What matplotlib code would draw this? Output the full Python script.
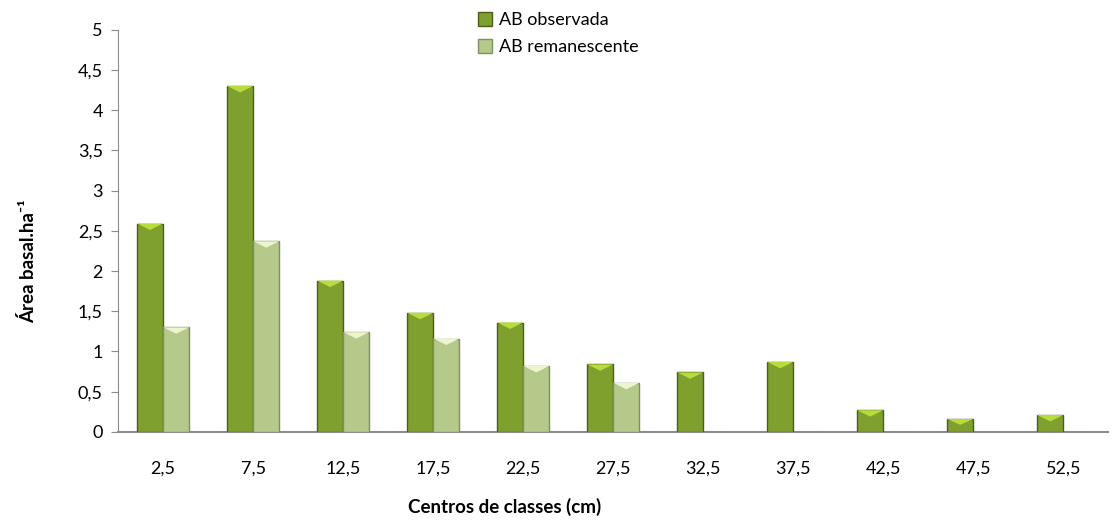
import matplotlib.pyplot as plt
from matplotlib.patches import Polygon
import numpy as np

plt.rcParams['font.family'] = ['Lato', 'DejaVu Sans']

centros = ['2,5', '7,5', '12,5', '17,5', '22,5', '27,5', '32,5', '37,5', '42,5', '47,5', '52,5']
ab_observada = [2.59, 4.30, 1.88, 1.48, 1.36, 0.84, 0.74, 0.87, 0.27, 0.16, 0.21]
ab_remanescente = [1.30, 2.37, 1.24, 1.16, 0.82, 0.61, 0, 0, 0, 0, 0]

fig = plt.figure(figsize=(11.15, 5.21), dpi=100)
ax = fig.add_axes([0.106, 0.171, 0.888, 0.772])

x = np.arange(len(centros))
w = 0.29


def bevel(bars, light):
    # lighter chevron on top of each bar
    for b in bars:
        h = b.get_height()
        if h <= 0:
            continue
        x0 = b.get_x()
        bw = b.get_width()
        d = min(0.08, h * 0.45)
        tri = Polygon([[x0, h], [x0 + bw, h], [x0 + bw / 2, h - d]],
                      closed=True, facecolor=light, edgecolor='none', zorder=4)
        ax.add_patch(tri)


b1 = ax.bar(x - w / 2, ab_observada, w, color='#7f9f2f', edgecolor='#4a5f1a',
            linewidth=1.0, label='AB observada', zorder=3)
b2 = ax.bar(x + w / 2, ab_remanescente, w, color='#b4c98a', edgecolor='#7d8f60',
            linewidth=1.0, label='AB remanescente', zorder=3)
bevel(b1, '#b8dc3c')
bevel(b2, '#eef3d0')

ax.set_xlim(-0.5, len(centros) - 0.5)
ax.set_ylim(0, 5)
ax.set_yticks(np.arange(0, 5.01, 0.5))
ax.set_yticklabels(['0', '0,5', '1', '1,5', '2', '2,5', '3', '3,5', '4', '4,5', '5'])
ax.set_xticks(x)
ax.set_xticklabels(centros)

for s in ['top', 'right']:
    ax.spines[s].set_visible(False)
ax.spines['left'].set_color('#8c8c8c')
ax.spines['bottom'].set_color('#8c8c8c')
ax.spines['bottom'].set_linewidth(1.5)
ax.tick_params(axis='y', length=5, color='#8c8c8c', labelsize=13, pad=6)
ax.tick_params(axis='x', length=0, labelsize=13, pad=21)

ax.set_xlabel('Centros de classes (cm)', fontsize=13.5, fontweight='bold', va='center')
ax.set_ylabel('Área basal.ha⁻¹', fontsize=13.5, fontweight='bold', va='center')
ax.xaxis.set_label_coords(0.39, -0.187)
ax.yaxis.set_label_coords(-0.091, 0.425)

fig.legend(loc='upper left', bbox_to_anchor=(0.414, 1.008), frameon=False,
           fontsize=13, handlelength=0.8, handleheight=0.8, handletextpad=0.35,
           labelspacing=0.6)

fig.savefig('out.png', dpi=100)
